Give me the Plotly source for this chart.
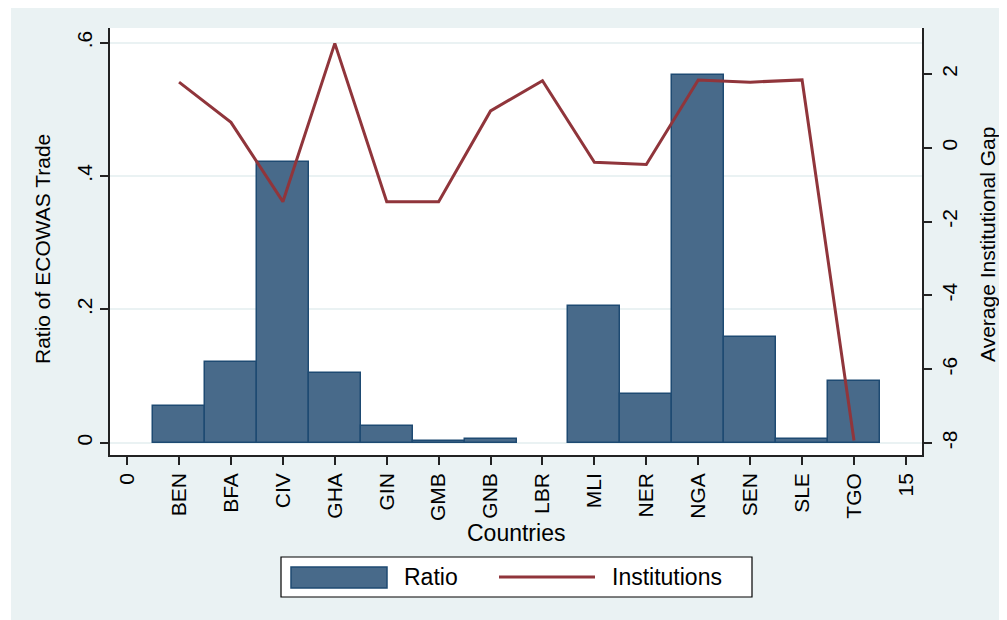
import plotly.graph_objects as go

countries = ["BEN", "BFA", "CIV", "GHA", "GIN", "GMB", "GNB", "LBR", "MLI", "NER", "NGA", "SEN", "SLE", "TGO"]
positions = list(range(1, 15))
ratio = [0.0555, 0.1215, 0.4206, 0.104, 0.0246, 0.0025, 0.005, None, 0.205, 0.073, 0.551, 0.158, 0.006, 0.0924]
institutions = [1.78, 0.69, -1.46, 2.83, -1.46, -1.46, 1.0, 1.82, -0.39, -0.45, 1.84, 1.78, 1.84, -7.93]

x_tickvals = [0] + positions + [15]
x_ticktext = ["0"] + countries + ["15"]
left_tickvals = [0, 0.2, 0.4, 0.6]
left_ticktext = ["0", ".2", ".4", ".6"]
right_tickvals = [-8, -6, -4, -2, 0, 2]
right_ticktext = ["-8", "-6", "-4", "-2", "0", "2"]

BG = "#EAF2F3"
BAR_FILL = "#486A8A"
BAR_LINE = "#1E4A72"
LINE_COL = "#90353B"
FONT = "Liberation Sans, Arial, sans-serif"

# the page body has an 8px margin; figure sized so it fills the rest of the window
OFF = 8
W, H = 1007 - OFF, 620 - OFF
# plot area edges in reference-window pixels
RL, RR, RT, RB = 110, 922, 28, 455
L, R, T, B = RL - OFF, RR - OFF, RT - OFF, RB - OFF


def px(xref_pix):
    return (xref_pix - RL) / (RR - RL)


def py(yref_pix):
    return (RB - yref_pix) / (RB - RT)


fig = go.Figure()
fig.add_trace(go.Bar(x=positions, y=ratio, width=1, name="Ratio",
                     marker=dict(color=BAR_FILL, line=dict(color=BAR_LINE, width=1.5)),
                     yaxis="y", showlegend=False))
fig.add_trace(go.Scatter(x=positions, y=institutions, mode="lines", name="Institutions",
                         line=dict(color=LINE_COL, width=3), yaxis="y2", showlegend=False))

axis_common = dict(showline=True, linecolor="#222222", linewidth=1.5, ticks="outside",
                   ticklen=8, tickwidth=1.5, tickcolor="#222222", zeroline=False,
                   tickfont=dict(family=FONT, size=21, color="black"))

fig.update_layout(
    width=W, height=H,
    margin=dict(l=L, r=W - R, t=T, b=H - B, pad=0),
    paper_bgcolor=BG, plot_bgcolor="white",
    font=dict(family=FONT, color="black"),
    bargap=0,
    xaxis=dict(range=[-0.33, 15.31], tickmode="array", tickvals=x_tickvals, ticktext=x_ticktext,
               tickangle=-90, showgrid=False, **axis_common),
    yaxis=dict(range=[-0.01845, 0.622], tickmode="array", tickvals=left_tickvals,
               ticktext=left_ticktext, tickangle=-90, showgrid=True, gridcolor=BG, gridwidth=2,
               **axis_common),
    yaxis2=dict(range=[-8.325, 3.247], tickmode="array", tickvals=right_tickvals,
                ticktext=right_ticktext, tickangle=-90, overlaying="y", side="right",
                showgrid=False, **axis_common),
)

shapes = [
    # thin white strip on the left edge
    dict(type="rect", xref="paper", yref="paper", x0=px(0), x1=px(11), y0=py(700), y1=py(-50),
         fillcolor="white", line=dict(width=0), layer="above"),
    # legend box
    dict(type="rect", xref="paper", yref="paper", x0=px(281), x1=px(752), y0=py(597), y1=py(557),
         fillcolor="white", line=dict(color="black", width=1.2)),
    dict(type="rect", xref="paper", yref="paper", x0=px(291), x1=px(387), y0=py(588), y1=py(567),
         fillcolor=BAR_FILL, line=dict(color=BAR_LINE, width=1.5)),
    dict(type="line", xref="paper", yref="paper", x0=px(499), x1=px(595), y0=py(577), y1=py(577),
         line=dict(color=LINE_COL, width=3)),
]
fig.update_layout(shapes=shapes)


def ann(text, x, y, size, angle=0, xanchor="center"):
    return dict(text=text, x=px(x), y=py(y), xref="paper", yref="paper", textangle=angle,
                xanchor=xanchor, yanchor="middle", showarrow=False,
                font=dict(size=size, family=FONT, color="black"))


annotations = [
    ann("Ratio of ECOWAS Trade", 42, 249, 21, -90),
    ann("Average Institutional Gap", 987, 245, 21, -90),
    ann("Countries", 516, 533, 23),
    ann("Ratio", 402, 577, 23, xanchor="left"),
    ann("Institutions", 610, 577, 23, xanchor="left"),
]
fig.update_layout(annotations=annotations)

fig.write_html("out.html")
